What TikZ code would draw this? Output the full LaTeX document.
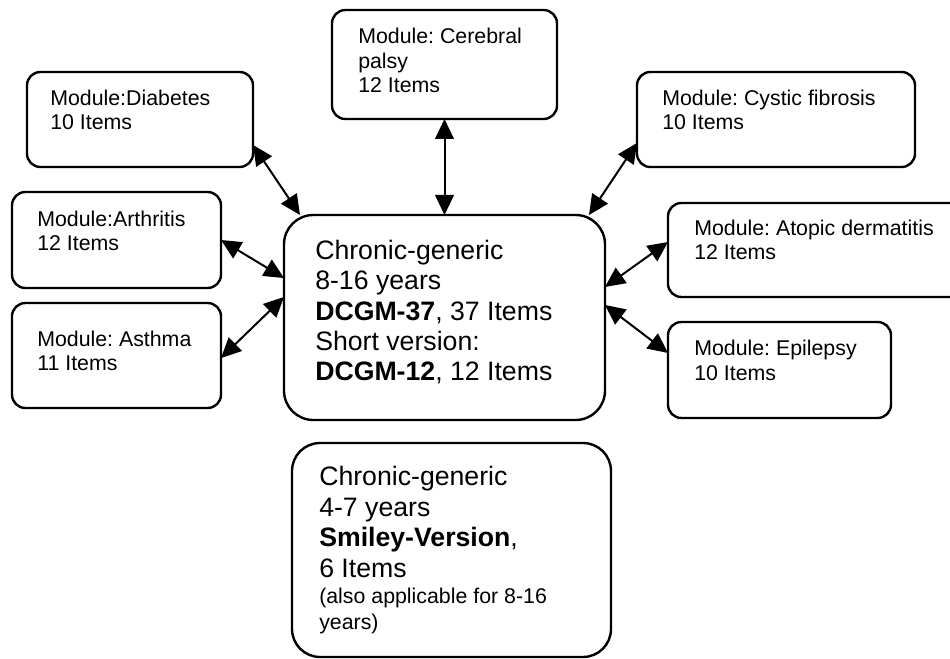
\documentclass[tikz,border=0pt]{standalone}
\usepackage{fontspec}
\setmainfont{Liberation Sans}
\usetikzlibrary{arrows.meta}
\frenchspacing
\tikzset{
  boxshape/.style={draw=black, line width=1.8pt, rectangle, inner sep=0pt, outer sep=0pt, fill=white},
  modbox/.style={boxshape, rounded corners=10pt},
  bigbox/.style={boxshape, rounded corners=22pt},
  modtext/.style={anchor=base west, inner sep=0pt, align=left, font=\frenchspacing\fontsize{16}{18.4}\selectfont},
  bigtext/.style={anchor=base west, inner sep=0pt, align=left, font=\frenchspacing\fontsize{20}{22.8}\selectfont},
  link/.style={line width=1.5pt, {Triangle[length=15pt,width=14pt]}-{Triangle[length=15pt,width=14pt]}}
}
\begin{document}
\begin{tikzpicture}[x=0.75pt,y=-0.75pt]
\path[use as bounding box, clip] (0,0) rectangle (950,659);
\fill[white] (0,0) rectangle (950,659);
% boxes
\node[modbox, minimum width=169.5pt, minimum height=71.25pt] (dia) at (140,119.5) {};
\node[modbox, minimum width=168.75pt, minimum height=81.75pt] (cer) at (444.5,64.5) {};
\node[modbox, minimum width=208.5pt, minimum height=71.25pt] (cys) at (776,119.5) {};
\node[modbox, minimum width=156.75pt, minimum height=72pt] (art) at (116.5,240) {};
\node[modbox, minimum width=156.75pt, minimum height=78.75pt] (ast) at (116.5,355.5) {};
\node[modbox, minimum width=226.5pt, minimum height=70.5pt] (ato) at (819,250) {};
\node[modbox, minimum width=167.25pt, minimum height=72pt] (epi) at (779.5,370) {};
\node[bigbox, minimum width=240.75pt, minimum height=153.75pt] (cen) at (444.5,317.5) {};
\node[bigbox, rounded corners=21pt, minimum width=239.25pt, minimum height=160.5pt] (bot) at (451.5,550) {};
% texts (anchored at the baseline of the last line)
\node[modtext] (diatx) at (50,130) {Module:Diabetes\\10 Items};
\node[modtext] (certx) at (358,93) {Module: Cerebral\\palsy\\12 Items};
\node[modtext] (cystx) at (662,130) {Module: Cystic fibrosis\\10 Items};
\node[modtext] (arttx) at (37,251) {Module:Arthritis\\12 Items};
\node[modtext] (asttx) at (37,371) {Module: Asthma\\11 Items};
\node[modtext] (atotx) at (694,260) {Module: Atopic dermatitis\\12 Items};
\node[modtext] (epitx) at (694,380) {Module: Epilepsy\\10 Items};
\node[bigtext] (centx) at (315,381) {Chronic-generic\\8-16 years\\\textbf{DCGM-37}, 37 Items\\Short version:\\\textbf{DCGM-12}, 12 Items};
\node[bigtext] (bottx) at (319,577) {Chronic-generic\\4-7 years\\\textbf{Smiley-Version},\\6 Items};
\node[modtext, font=\frenchspacing\fontsize{16}{19.5}\selectfont] (botnote) at (319,629) {(also applicable for 8-16\\years)};
% connectors
\draw[link] ([yshift=-19.1pt]dia.east) -- ([xshift=12pt]cen.north west);
\draw[link] (cer.south) -- (cen.north);
\draw[link] ([yshift=-17.6pt]cys.west) -- ([xshift=-12pt]cen.north east);
\draw[link] (art.east) -- ([yshift=29.6pt]cen.west);
\draw[link] ([yshift=-1.9pt]ast.east) -- ([yshift=15.4pt]cen.west);
\draw[link] ([yshift=6pt]ato.west) -- ([yshift=22.9pt]cen.east);
\draw[link] ([yshift=12.75pt]epi.west) -- ([yshift=9.4pt]cen.east);
\end{tikzpicture}
\end{document}
